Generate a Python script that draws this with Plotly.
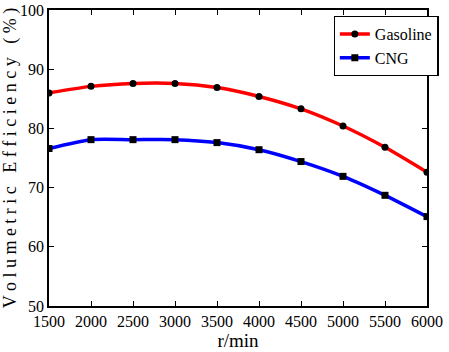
import plotly.graph_objects as go

rpm = [1500, 2000, 2500, 3000, 3500, 4000, 4500, 5000, 5500, 6000]
gasoline = [86.0, 87.1, 87.6, 87.6, 86.9, 85.4, 83.3, 80.4, 76.8, 72.6]
cng = [76.6, 78.1, 78.1, 78.1, 77.6, 76.4, 74.4, 71.9, 68.7, 65.1]
x_ticks = [1500, 2000, 2500, 3000, 3500, 4000, 4500, 5000, 5500, 6000]
y_ticks = [50, 60, 70, 80, 90, 100]

SERIF = "Times New Roman"

fig = go.Figure()
fig.add_trace(go.Scatter(x=rpm, y=gasoline, name="Gasoline", mode="lines+markers",
                         line=dict(color="#ff0000", width=3.5, shape="spline", smoothing=0.7),
                         marker=dict(symbol="circle", size=7, color="black")))
fig.add_trace(go.Scatter(x=rpm, y=cng, name="CNG", mode="lines+markers",
                         line=dict(color="#0000ff", width=3.5, shape="spline", smoothing=0.7),
                         marker=dict(symbol="square", size=7, color="black")))

fig.update_layout(
    template="none",
    width=449, height=352,
    margin=dict(l=49, r=12, t=10, b=46),
    paper_bgcolor="white", plot_bgcolor="white",
    font=dict(family=SERIF, color="black", size=16),
    showlegend=True,
)
fig.update_xaxes(range=[1500, 6000], tickvals=x_ticks, showgrid=False, zeroline=False,
                 showline=True, linecolor="black", linewidth=1.5, mirror="ticks",
                 ticks="inside", ticklen=5, tickcolor="black",
                 tickfont=dict(family=SERIF, size=16, color="black"),
                 title_text="r/min", title_font=dict(family=SERIF, size=19), title_standoff=0)
fig.update_yaxes(range=[50, 100], tickvals=y_ticks, showgrid=False, zeroline=False,
                 showline=True, linecolor="black", linewidth=1.5, mirror="ticks",
                 ticks="inside", ticklen=5, tickcolor="black",
                 tickfont=dict(family=SERIF, size=16, color="black"),
                 title_text="V o l u m e t r i c   E f f i c i e n c y   ( % )",
                 title_font=dict(family=SERIF, size=18), title_standoff=2)
fig.update_layout(legend=dict(x=0.753, y=0.98, xanchor="left", yanchor="top",
                              bordercolor="black", borderwidth=1.2, bgcolor="white",
                              font=dict(family=SERIF, size=16), itemwidth=30, tracegroupgap=0))
fig.write_html("out.html")
